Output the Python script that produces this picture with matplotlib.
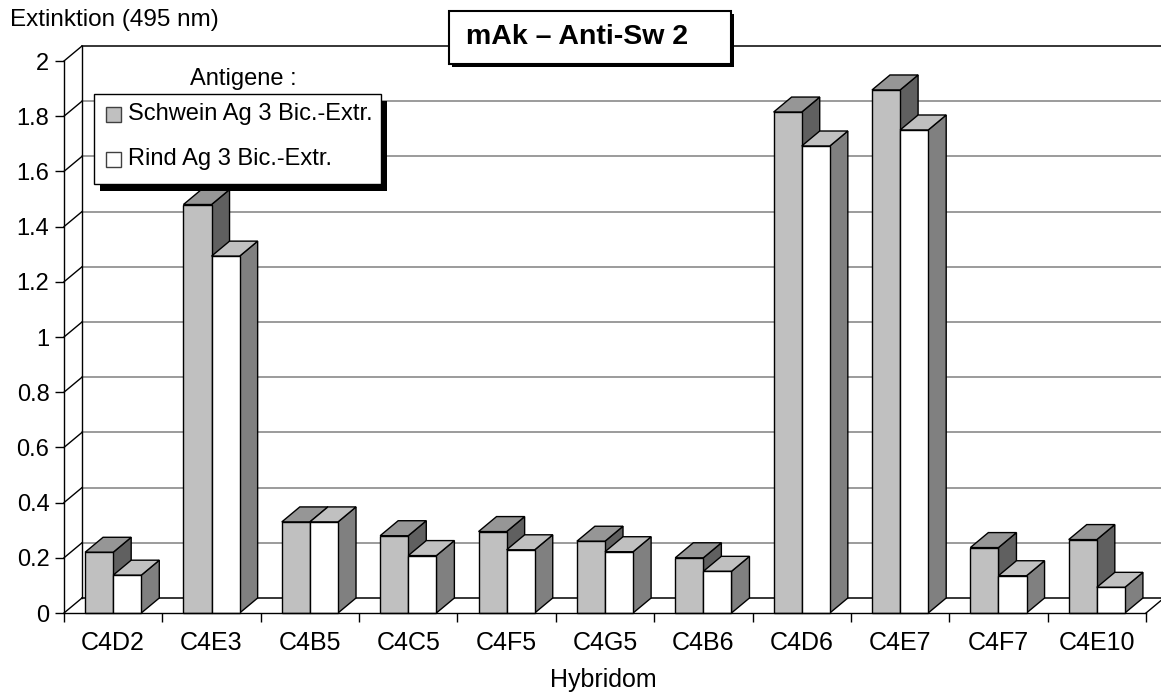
import matplotlib
matplotlib.use("Agg")
import matplotlib.pyplot as plt
from matplotlib.patches import Polygon, Rectangle
from matplotlib.lines import Line2D

plt.rcParams['font.family'] = ['Liberation Sans', 'DejaVu Sans']

# ---------------- data ----------------
categories = ['C4D2', 'C4E3', 'C4B5', 'C4C5', 'C4F5', 'C4G5', 'C4B6',
              'C4D6', 'C4E7', 'C4F7', 'C4E10']
schwein = [0.22, 1.48, 0.33, 0.28, 0.295, 0.26, 0.20, 1.815, 1.895, 0.237, 0.266]
rind = [0.137, 1.293, 0.33, 0.208, 0.229, 0.222, 0.151, 1.692, 1.75, 0.135, 0.093]
series_names = ['Schwein Ag 3 Bic.-Extr.', 'Rind Ag 3 Bic.-Extr.']
yticks = [0, 0.2, 0.4, 0.6, 0.8, 1, 1.2, 1.4, 1.6, 1.8, 2]
ytick_labels = ['0', '0.2', '0.4', '0.6', '0.8', '1', '1.2', '1.4', '1.6', '1.8', '2']
title = 'mAk – Anti-Sw 2'
ylabel = 'Extinktion (495 nm)'
xlabel = 'Hybridom'
legend_title = 'Antigene :'

# face colours: (front, top, side)
colors = [('#C0C0C0', '#969696', '#606060'),
          ('#FFFFFF', '#C0C0C0', '#808080')]

W, H = 1161, 698
fig = plt.figure(figsize=(W / 100, H / 100), dpi=100)

def fx(px):
    return px / W

def fy(py):
    return 1 - py / H

ax_l, ax_r, ax_t, ax_b = 64, 1146, 61, 613
ax = fig.add_axes([fx(ax_l), fy(ax_b), fx(ax_r - ax_l), (ax_b - ax_t) / H])
n = len(categories)
ax.set_xlim(0, n)
ax.set_ylim(0, 2)
ax.patch.set_visible(False)

# depth offsets in data units (18 px right, 15 px up)
DX = 18 / ((ax_r - ax_l) / n)
DY = 15 / ((ax_b - ax_t) / 2)

# back wall gridlines
for v in yticks:
    col = '#000000' if v in (0, 2) else '#808080'
    ax.add_line(Line2D([DX, n + DX + 0.5], [v + DY, v + DY], color=col, lw=1.1,
                       clip_on=False, zorder=1))
    # left wall diagonals
    ax.add_line(Line2D([0, DX], [v, v + DY], color='black', lw=1.0,
                       clip_on=False, zorder=1))
# back wall left edge
ax.add_line(Line2D([DX, DX], [DY, 2 + DY], color='black', lw=1.0, clip_on=False, zorder=1))
# floor right diagonal
ax.add_line(Line2D([n, n + DX], [0, DY], color='black', lw=1.0, clip_on=False, zorder=1))

# bars
w = 1 / 3.5
for i in range(n):
    for s, vals in enumerate([schwein, rind]):
        v = vals[i]
        x0 = i + 0.75 * w + s * w
        fc, tc, sc = colors[s]
        side = Polygon([(x0 + w, 0), (x0 + w + DX, DY), (x0 + w + DX, v + DY), (x0 + w, v)],
                       closed=True, facecolor=sc, edgecolor='black', lw=1.0,
                       clip_on=False, zorder=3)
        top = Polygon([(x0, v), (x0 + w, v), (x0 + w + DX, v + DY), (x0 + DX, v + DY)],
                      closed=True, facecolor=tc, edgecolor='black', lw=1.0,
                      clip_on=False, zorder=3)
        front = Rectangle((x0, 0), w, v, facecolor=fc, edgecolor='black', lw=1.0,
                          clip_on=False, zorder=3)
        ax.add_patch(side)
        ax.add_patch(top)
        ax.add_patch(front)

# axes / ticks
for sp in ['top', 'right']:
    ax.spines[sp].set_visible(False)
ax.spines['left'].set_linewidth(1.0)
ax.spines['bottom'].set_linewidth(1.0)
ax.spines['left'].set_zorder(4)
ax.spines['bottom'].set_zorder(4)
ax.set_yticks(yticks)
ax.set_yticklabels(ytick_labels, fontsize=17)
ax.tick_params(axis='y', direction='out', length=6.5, width=1.0, pad=4)
ax.set_xticks(range(n + 1))
ax.set_xticklabels([])
ax.tick_params(axis='x', which='major', direction='out', length=6.5, width=1.0)
ax.set_xticks([i + 0.5 for i in range(n)], minor=True)
ax.set_xticklabels(categories, minor=True, fontsize=18)
ax.tick_params(axis='x', which='minor', length=0, pad=13)

# axis labels
fig.text(fx(10), fy(20), ylabel, fontsize=17.5, ha='left', va='center')
fig.text(fx(603), fy(680), xlabel, fontsize=18, ha='center', va='center')

# title box with shadow
tb = (449, 11, 731, 64)
fig.patches.append(Rectangle((fx(tb[0] + 3), fy(tb[3] + 3)), fx(tb[2] - tb[0]), (tb[3] - tb[1]) / H,
                             transform=fig.transFigure, facecolor='black', edgecolor='none', zorder=10))
fig.patches.append(Rectangle((fx(tb[0]), fy(tb[3])), fx(tb[2] - tb[0]), (tb[3] - tb[1]) / H,
                             transform=fig.transFigure, facecolor='white', edgecolor='black',
                             lw=1.5, zorder=11))
fig.text(fx(466), fy(37), title, fontsize=20.5, fontweight='bold', ha='left', va='center', zorder=12)

# legend box with shadow
lb = (94, 94, 381, 184)
fig.patches.append(Rectangle((fx(lb[0] + 6), fy(lb[3] + 7)), fx(lb[2] - lb[0]), (lb[3] - lb[1]) / H,
                             transform=fig.transFigure, facecolor='black', edgecolor='none', zorder=10))
fig.patches.append(Rectangle((fx(lb[0]), fy(lb[3])), fx(lb[2] - lb[0]), (lb[3] - lb[1]) / H,
                             transform=fig.transFigure, facecolor='white', edgecolor='black',
                             lw=1.0, zorder=11))
fig.text(fx(243), fy(79), legend_title, fontsize=17, ha='center', va='center', zorder=12)
for k, (name, cy) in enumerate(zip(series_names, [114, 159])):
    fig.patches.append(Rectangle((fx(106), fy(cy + 7.5)), fx(15), 15 / H, transform=fig.transFigure,
                                 facecolor=colors[k][0], edgecolor='#404040', lw=1.0, zorder=12))
    fig.text(fx(128), fy(cy), name, fontsize=17, ha='left', va='center', zorder=12)

fig.savefig('out.png', dpi=100)
